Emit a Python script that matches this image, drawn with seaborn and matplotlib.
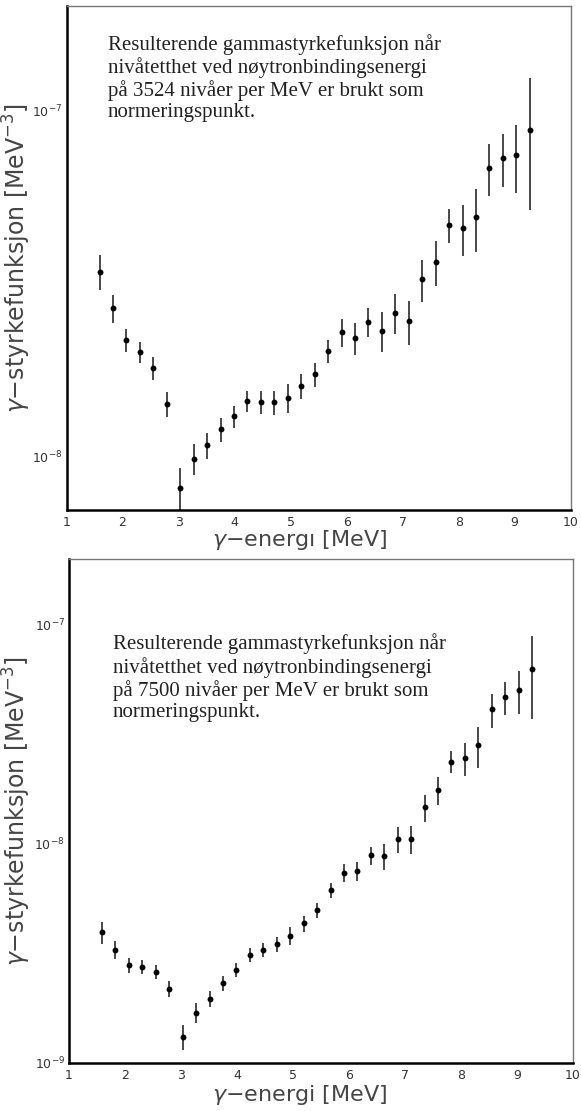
import numpy as np
import pandas as pd
import matplotlib
matplotlib.use("Agg")
import matplotlib.pyplot as plt
import matplotlib.ticker as mticker
import seaborn as sns

# ---------------- data ----------------
energy = [1.59, 1.83, 2.07, 2.31, 2.55, 2.79, 3.03, 3.27, 3.51, 3.75, 3.99,
          4.23, 4.47, 4.71, 4.95, 5.19, 5.43, 5.67, 5.91, 6.15, 6.39, 6.63,
          6.87, 7.11, 7.35, 7.59, 7.83, 8.07, 8.31, 8.55, 8.79, 9.03, 9.27]

# panel 1: 3524 levels per MeV (units of 1e-8 MeV^-3)
f1 = [3.42, 2.68, 2.17, 2.01, 1.80, 1.42, 0.814, 0.985, 1.079, 1.20, 1.307,
      1.447, 1.438, 1.438, 1.48, 1.60, 1.73, 2.02, 2.29, 2.20, 2.45, 2.31,
      2.60, 2.46, 3.25, 3.65, 4.66, 4.56, 4.92, 6.82, 7.28, 7.42, 8.76]
e1 = [0.40, 0.25, 0.165, 0.14, 0.135, 0.115, 0.115, 0.10, 0.095, 0.095, 0.097,
      0.105, 0.11, 0.115, 0.14, 0.13, 0.135, 0.15, 0.21, 0.23, 0.235, 0.31,
      0.34, 0.355, 0.455, 0.535, 0.52, 0.755, 1.02, 1.175, 1.29, 1.63, 3.6]

# panel 2: 7500 levels per MeV (units of 1e-9 MeV^-3)
f2 = [3.95, 3.28, 2.80, 2.75, 2.61, 2.18, 1.318, 1.70, 1.97, 2.32, 2.67,
      3.12, 3.29, 3.49, 3.80, 4.34, 4.98, 6.14, 7.40, 7.53, 8.87, 8.84,
      10.54, 10.54, 14.7, 17.64, 23.77, 24.6, 28.2, 41.2, 46.8, 50.5, 63.0]
e2 = [0.47, 0.31, 0.225, 0.20, 0.20, 0.18, 0.17, 0.17, 0.17, 0.185, 0.20,
      0.23, 0.24, 0.27, 0.36, 0.36, 0.40, 0.47, 0.68, 0.78, 0.86, 1.2,
      1.4, 1.55, 2.1, 2.6, 2.7, 4.2, 5.9, 7.2, 8.2, 11.2, 25.8]

notes = [
    "Resulterende gammastyrkefunksjon når\nnivåtetthet ved nøytronbindingsenergi\n"
    "på 3524 nivåer per MeV er brukt som\nnormeringspunkt.",
    "Resulterende gammastyrkefunksjon når\nnivåtetthet ved nøytronbindingsenergi\n"
    "på 7500 nivåer per MeV er brukt som\nnormeringspunkt.",
]
xlabels = ["$\\gamma$\u2212energ\u0131 [MeV]", "$\\gamma$\u2212energi [MeV]"]
ylabel = "$\\gamma$\u2212styrkefunksjon [MeV$^{-3}$]"
xticks = [1, 2, 3, 4, 5, 6, 7, 8, 9, 10]

df1 = pd.DataFrame({"E": energy, "f": np.array(f1) * 1e-8, "err": np.array(e1) * 1e-8})
df2 = pd.DataFrame({"E": energy, "f": np.array(f2) * 1e-9, "err": np.array(e2) * 1e-9})

# ---------------- style ----------------
sns.set_theme(style="white")
plt.rcParams["font.family"] = ["DejaVu Sans"]
plt.rcParams["mathtext.fontset"] = "dejavusans"

W, H = 581, 1111
fig = plt.figure(figsize=(W / 100, H / 100), dpi=100)

def box(l, t, r, b):
    return [l / W, 1 - b / H, (r - l) / W, (b - t) / H]

ax1 = fig.add_axes(box(66.5, 6, 570.7, 510))
ax2 = fig.add_axes(box(69, 559, 573, 1063))

panels = [
    (ax1, df1, (7.02e-9, 2.0e-7), notes[0], xlabels[0], (0.463, -0.036),
     -0.066, (0.082, 0.945)),
    (ax2, df2, (1.0e-9, 2.0e-7), notes[1], xlabels[1], (0.458, -0.040),
     -0.071, (0.087, 0.852)),
]

for ax, df, ylim, note, xl, xlpos, ylx, npos in panels:
    ax.set_yscale("log")
    ax.errorbar(df["E"], df["f"], yerr=df["err"], fmt="none",
                ecolor="#2a2a2a", elinewidth=1.2, capsize=0, zorder=2)
    sns.scatterplot(data=df, x="E", y="f", ax=ax, color="black", s=18,
                    edgecolor="black", linewidth=0, zorder=3, legend=False)
    ax.set_xlim(1, 10)
    ax.set_ylim(*ylim)

    ax.set_xticks(xticks)
    ax.xaxis.set_minor_locator(mticker.MultipleLocator(0.2))
    ax.yaxis.set_major_locator(mticker.LogLocator(base=10, numticks=10))
    ax.yaxis.set_minor_locator(mticker.LogLocator(base=10, subs=np.arange(2, 10), numticks=10))
    ax.yaxis.set_minor_formatter(mticker.NullFormatter())

    ax.tick_params(axis="both", which="major", direction="in", length=9,
                   width=0.9, color="#333333", labelsize=9, labelcolor="#333333")
    ax.tick_params(axis="both", which="minor", direction="in", length=4.5,
                   width=0.9, color="#333333")
    ax.tick_params(axis="x", which="major", pad=4)
    ax.tick_params(axis="y", which="major", pad=3)

    for s in ["left", "bottom"]:
        ax.spines[s].set_color("black")
        ax.spines[s].set_linewidth(1.8)
    for s in ["top", "right"]:
        ax.spines[s].set_color("#777777")
        ax.spines[s].set_linewidth(1.0)

    ax.set_xlabel(xl, fontsize=16, color="#454545")
    ax.xaxis.set_label_coords(*xlpos)
    ax.set_ylabel(ylabel, fontsize=17, color="#454545")
    ax.yaxis.set_label_coords(ylx, 0.5)

    ax.text(npos[0], npos[1], note, transform=ax.transAxes,
            ha="left", va="top", fontsize=15, family="Liberation Serif",
            color="#222222", linespacing=1.15)

fig.savefig("out.png", dpi=100)
